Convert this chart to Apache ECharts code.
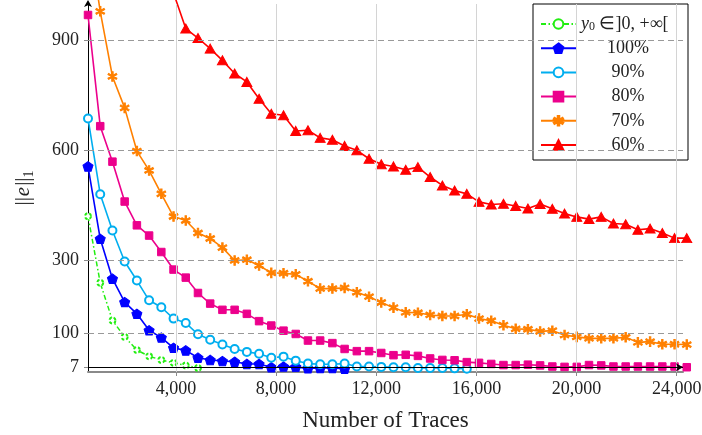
<!DOCTYPE html>
<html><head><meta charset="utf-8">
<script src="https://cdn.jsdelivr.net/npm/echarts@6/dist/echarts.min.js"></script>
<style>html,body{margin:0;padding:0;background:#fff}#c{width:702px;height:435px}</style>
</head><body><div id="c"></div>
<script>
// ---- data ----
const traces = [488, 976, 1464, 1952, 2440, 2928, 3416, 3904, 4392, 4880,
  5368, 5856, 6344, 6832, 7320, 7808, 8296, 8784, 9272, 9760,
  10248, 10736, 11224, 11712, 12200, 12688, 13176, 13664, 14152, 14640,
  15128, 15616, 16104, 16592, 17080, 17568, 18056, 18544, 19032, 19520,
  20008, 20496, 20984, 21472, 21960, 22448, 22936, 23424, 23912, 24400];
const yInf = [420, 238, 135, 90, 54, 37, 27, 19, 12, 5];
const p100 = [556, 358, 249, 185, 153, 108, 88, 60, 53, 33, 27, 24, 22, 16, 16, 7, 9, 8, 4, 5, 5, 3];
const p90 = [687, 480, 381, 296, 244, 190, 171, 140, 128, 97, 82, 69, 57, 49, 44, 33, 36, 25, 17, 15,
  15, 17, 9, 9, 8, 7, 7, 5, 5, 5, 4, 3];
const p80 = [970, 666, 569, 460, 395, 367, 322, 274, 252, 210, 181, 164, 164, 153, 133, 121, 107, 98, 80, 80,
  73, 57, 51, 51, 46, 40, 41, 38, 31, 27, 26, 21, 19, 16, 13, 13, 14, 12, 9, 8,
  8, 13, 12, 9, 9, 9, 9, 9, 9, 7];
const p70 = [1200, 980, 802, 716, 598, 545, 481, 419, 408, 374, 359, 334, 299, 301, 285, 265, 264, 261, 242, 222,
  222, 224, 212, 200, 184, 170, 157, 156, 150, 147, 147, 152, 140, 134, 122, 112, 111, 105, 107, 95,
  90, 86, 86, 86, 89, 75, 77, 70, 70, 69];
const p60 = [null, null, null, null, null, null, null, 1030, 933, 907, 878, 846, 810, 787, 741, 700, 696, 653, 655, 634,
  629, 612, 600, 577, 562, 556, 547, 554, 527, 504, 490, 481, 459, 452, 454, 448, 441, 453, 440, 427,
  418, 412, 418, 400, 398, 383, 386, 374, 360, 360];
const seriesNames = ['y0 ∈]0,+∞[', '100%', '90%', '80%', '70%', '60%'];
const xTicks = [4000, 8000, 12000, 16000, 20000, 24000];
const yTicks = [7, 100, 300, 600, 900];
const yGrid = [100, 300, 600, 900];
const xName = 'Number of Traces';

// ---- chart ----
const FONT = 'Liberation Serif';
const pair = vals => vals.map((v, i) => [traces[i], v]);
const pentagon = 'path://M0,-10 L9.51,-3.09 L5.88,8.09 L-5.88,8.09 L-9.51,-3.09 Z';
const asterisk = 'path://M-1.5,10 L1.5,10 L1.5,-10 L-1.5,-10 Z M7.91,6.30 L9.41,3.70 L-7.91,-6.30 L-9.41,-3.70 Z M-9.41,3.70 L-7.91,6.30 L9.41,-3.70 L7.91,-6.30 Z';

function mk(name, vals, color, symbol, size, extra) {
  return Object.assign({
    name, type: 'line', data: pair(vals), clip: false, connectNulls: false,
    symbol, symbolSize: size, showAllSymbol: true,
    lineStyle: {color, width: 1.6},
    itemStyle: {color, borderColor: color, borderWidth: 1},
    emphasis: {disabled: true}, animation: false, z: 3
  }, extra || {});
}

const chart = echarts.init(document.getElementById('c'), null, {renderer: 'canvas'});
chart.setOption({
  animation: false,
  backgroundColor: '#fff',
  grid: {left: 88, right: 19, top: 4, bottom: 63, containLabel: false, outerBoundsMode: 'none'},
  xAxis: {
    type: 'value', min: 488, max: 24250,
    name: xName, nameLocation: 'middle', nameGap: 37,
    nameTextStyle: {fontFamily: FONT, fontSize: 23, color: '#222'},
    axisLine: {onZero: false, lineStyle: {color: '#8a8a8a', width: 2}},
    axisTick: {show: true, inside: false, length: 4, customValues: xTicks, lineStyle: {color: '#8a8a8a', width: 1}},
    axisLabel: {customValues: xTicks, margin: 8, fontFamily: FONT, fontSize: 18, color: '#222',
      formatter: v => v.toLocaleString('en-US')},
    splitLine: {show: false}
  },
  yAxis: {
    type: 'value', min: -6, max: 1000,
    name: '{b|||}{e|e}{b|||}{s|1}', nameLocation: 'middle', nameGap: 52,
    nameTextStyle: {fontFamily: FONT, color: '#222', rich: {
      b: {fontFamily: FONT, fontSize: 21, lineHeight: 26, color: '#222'},
      e: {fontFamily: FONT, fontSize: 21, fontStyle: 'italic', lineHeight: 26, color: '#222', padding: [0, 1, 0, 1]},
      s: {fontFamily: FONT, fontSize: 14, lineHeight: 26, verticalAlign: 'bottom', color: '#222'}
    }},
    axisLine: {onZero: false, symbol: ['none', 'arrow'], symbolSize: [6, 7], symbolOffset: [0, 4], lineStyle: {color: '#000', width: 1}},
    axisTick: {show: true, inside: false, length: 4, customValues: yTicks, lineStyle: {color: '#8a8a8a', width: 1}},
    axisLabel: {customValues: yTicks, margin: 9, fontFamily: FONT, fontSize: 18, color: '#222'},
    splitLine: {show: false}
  },
  legend: {
    orient: 'vertical', left: 533, top: 4,
    padding: [11, 13, 6, 7], itemWidth: 35, itemHeight: 12, itemGap: 6.2,
    borderColor: '#000', borderWidth: 1, backgroundColor: '#fff',
    selectedMode: false, data: seriesNames,
    textStyle: {fontFamily: FONT, fontSize: 18, lineHeight: 18, color: '#222', rich: {
      c: {fontFamily: FONT, fontSize: 18, width: 94, align: 'center', color: '#222'},
      i: {fontFamily: FONT, fontSize: 18, fontStyle: 'italic', color: '#222'},
      u: {fontFamily: FONT, fontSize: 12, verticalAlign: 'bottom', color: '#222'},
      m: {fontFamily: FONT, fontSize: 18, color: '#222'}
    }},
    formatter: n => n === seriesNames[0] ? '{i|y}{u|0}{m| ∈]0, +∞[}' : '{c|' + n + '}'
  },
  series: [
    {type: 'line', name: '_grid', data: [], z: 1, silent: true, animation: false,
      markLine: {silent: true, symbol: 'none', label: {show: false}, animation: false,
        emphasis: {disabled: true},
        data: yGrid.map(v => ({yAxis: v, lineStyle: {color: '#999', width: 1.1, type: [6, 4]}}))
          .concat(xTicks.map(v => ({xAxis: v, lineStyle: {color: '#d4d4d4', width: 1, type: 'solid'}})))}},
    mk(seriesNames[0], yInf, '#22ee11', 'emptyCircle', 6, {
      lineStyle: {color: '#22ee11', width: 1.5, type: [5, 2.5, 1.5, 2.5]},
      itemStyle: {color: '#22ee11', borderColor: '#22ee11', borderWidth: 1.3, borderType: [3, 2]}}),
    mk(seriesNames[1], p100, '#0000ff', pentagon, [10, 9.5]),
    mk(seriesNames[2], p90, '#00aeef', 'emptyCircle', 8, {itemStyle: {color: '#00aeef', borderColor: '#00aeef', borderWidth: 1.5}}),
    mk(seriesNames[3], p80, '#ec008c', 'rect', 7.5),
    mk(seriesNames[4], p70, '#ff8000', asterisk, [9, 9.5]),
    mk(seriesNames[5], p60, '#ff0000', 'triangle', [10, 9]),
    {type: 'line', name: '_axis7', data: [], z: 10, silent: true, animation: false,
      markLine: {silent: true, symbol: ['none', 'arrow'], symbolSize: [6, 7], label: {show: false}, animation: false,
        emphasis: {disabled: true},
        data: [[{coord: [488, 7]}, {coord: [24250, 7]}]],
        lineStyle: {color: '#000', width: 1.2, type: 'solid'}}}
  ]
});
</script></body></html>
